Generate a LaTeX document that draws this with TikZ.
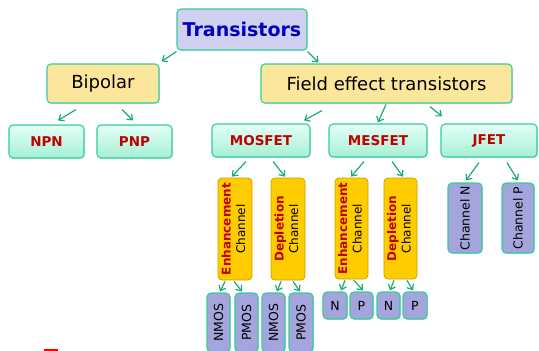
\documentclass[tikz,border=0pt]{standalone}
\usepackage{fontspec}
\usepackage{graphicx}
\setmainfont{DejaVu Sans}
\usetikzlibrary{arrows.meta,calc,shadows}
\definecolor{teal1}{RGB}{50,205,155}
\definecolor{arrowc}{RGB}{25,170,120}
\definecolor{lavtop}{RGB}{208,208,240}
\definecolor{ltyel}{RGB}{252,230,155}
\definecolor{gold1}{RGB}{255,204,0}
\definecolor{goldb}{RGB}{200,160,0}
\definecolor{purp}{RGB}{165,165,222}
\definecolor{dred}{RGB}{192,0,0}
\definecolor{dblue}{RGB}{0,0,190}
\definecolor{mintt}{RGB}{228,255,246}
\definecolor{mintb}{RGB}{165,240,212}
\tikzset{
  basebox/.style={rectangle, rounded corners=4pt, draw=teal1, line width=1.1pt, inner sep=0pt,
    drop shadow={shadow xshift=1pt, shadow yshift=-1pt, opacity=0.25, fill=gray}},
  topbox/.style={basebox, fill=lavtop, text=dblue, font=\fontsize{19}{22}\selectfont\bfseries},
  midbox/.style={basebox, fill=ltyel, text=black, font=\fontsize{18}{21}\selectfont},
  mintbox/.style={basebox, top color=mintt, bottom color=mintb, text=dred, font=\fontsize{13.5}{15}\selectfont\bfseries},
  goldbox/.style={rectangle, rounded corners=4pt, draw=goldb, line width=0.8pt, fill=gold1, inner sep=0pt,
    font=\fontsize{12}{14.5}\selectfont},
  purpbox/.style={basebox, fill=purp, text=black, font=\fontsize{12.5}{14}\selectfont},
  arr/.style={draw=arrowc, line width=1.2pt, -{Straight Barb[length=4.5pt,width=7.5pt]}},
}
\newcommand{\vtext}[1]{\rotatebox{90}{#1}}
\newcommand{\vtwo}[1]{\rotatebox{90}{\begin{tabular}{@{}c@{}}\textcolor{dred}{\bfseries #1}\\Channel\end{tabular}}}
\begin{document}
\begin{tikzpicture}[x=1pt,y=-1pt]
\useasboundingbox (0,0) rectangle (539,351);
\clip (0,0) rectangle (539,351);
% level 0
\node[topbox, minimum width=130, minimum height=41] (T) at (242,29.5) {Transistors};
% level 1
\node[midbox, minimum width=112, minimum height=39] (Bip) at (103,83.5) {Bipolar};
\node[midbox, minimum width=251, minimum height=39] (FET) at (386.5,83.5) {Field effect transistors};
% level 2
\node[mintbox, minimum width=75, minimum height=33] (NPN) at (46.5,141.5) {NPN};
\node[mintbox, minimum width=75, minimum height=33] (PNP) at (134.5,141.5) {PNP};
\node[mintbox, minimum width=98, minimum height=33] (MOS) at (261,140.5) {MOSFET};
\node[mintbox, minimum width=98, minimum height=33] (MES) at (378,140.5) {MESFET};
\node[mintbox, minimum width=96, minimum height=33] (JF) at (489,140.5) {JFET};
% level 3
\node[goldbox, minimum width=34, minimum height=102] (E1) at (235,229) {\vtwo{Enhancement}};
\node[goldbox, minimum width=34, minimum height=102] (D1) at (288,229) {\vtwo{Depletion}};
\node[goldbox, minimum width=33, minimum height=101] (E2) at (351.5,228.5) {\vtwo{Enhancement}};
\node[goldbox, minimum width=33, minimum height=101] (D2) at (400.5,228.5) {\vtwo{Depletion}};
\node[purpbox, minimum width=34, minimum height=70] (CN) at (465,218) {\vtext{Channel N}};
\node[purpbox, minimum width=32, minimum height=70] (CP) at (518,218) {\vtext{Channel P}};
% level 4
\node[purpbox, minimum width=23, minimum height=59] (NM1) at (218.5,322.5) {\vtext{NMOS}};
\node[purpbox, minimum width=23, minimum height=59] (PM1) at (246.5,322.5) {\vtext{PMOS}};
\node[purpbox, minimum width=23, minimum height=59] (NM2) at (273.5,322.5) {\vtext{NMOS}};
\node[purpbox, minimum width=24, minimum height=59] (PM2) at (301,322.5) {\vtext{PMOS}};
\node[purpbox, minimum width=24, minimum height=27] (N1) at (335,305.5) {N};
\node[purpbox, minimum width=23, minimum height=27] (P1) at (361.5,305.5) {P};
\node[purpbox, minimum width=23, minimum height=27] (N2) at (388.5,305.5) {N};
\node[purpbox, minimum width=24, minimum height=27] (P2) at (415,305.5) {P};
% arrows
\draw[arr] ($(T.south west)+(0,1)$) -- ($(Bip.north east)+(2,-2)$);
\draw[arr] ($(T.south east)+(0,1)$) -- ($(FET.north)+(-68,-1)$);
\draw[arr] ($(Bip.south)+(-27,6)$) -- ($(NPN.north)+(11.5,-4)$);
\draw[arr] ($(Bip.south)+(19,6)$) -- ($(PNP.north)+(-1.5,-4)$);
\draw[arr] ($(FET.south)+(-64.5,7)$) -- ($(MOS.north)+(43,-3)$);
\draw[arr] ($(FET.south)+(-0.5,1)$) -- ($(MES.north)+(0,-1)$);
\draw[arr] ($(FET.south)+(43.5,3)$) -- ($(JF.north)+(-47,-7)$);
\draw[arr] ($(MOS.south)+(-15,4)$) -- ($(E1.north)+(-3,-1)$);
\draw[arr] ($(MOS.south)+(12,4)$) -- ($(D1.north)+(-3,-1)$);
\draw[arr] ($(MES.south)+(-14,4)$) -- ($(E2.north)+(-0.5,-1)$);
\draw[arr] ($(MES.south)+(14,4)$) -- ($(D2.north)+(2.5,-1)$);
\draw[arr] ($(JF.south)+(-10,5)$) -- ($(CN.north)+(1,-2)$);
\draw[arr] ($(JF.south)+(18,5)$) -- ($(CP.north)+(0,-2)$);
\draw[arr] ($(E1.south)+(-10,1)$) -- ($(NM1.north)+(1.5,-1)$);
\draw[arr] ($(E1.south)+(-1,1)$) -- ($(PM1.north)+(-4.5,-1)$);
\draw[arr] ($(D1.south)+(-7,1)$) -- ($(NM2.north)+(3.5,-1)$);
\draw[arr] ($(D1.south)+(5,1)$) -- ($(PM2.north)+(-1,-1)$);
\draw[arr] ($(E2.south)+(-6.5,1)$) -- ($(N1.north)+(6,-1)$);
\draw[arr] ($(E2.south)+(2.5,1)$) -- ($(P1.north)+(1.5,-1)$);
\draw[arr] ($(D2.south)+(-6.5,1)$) -- ($(N2.north)+(1.5,-1)$);
\draw[arr] ($(D2.south)+(6.5,1)$) -- ($(P2.north)+(-2,-1)$);
% small red mark
\fill[red] (44,349) rectangle (58,352);
\end{tikzpicture}
\end{document}
